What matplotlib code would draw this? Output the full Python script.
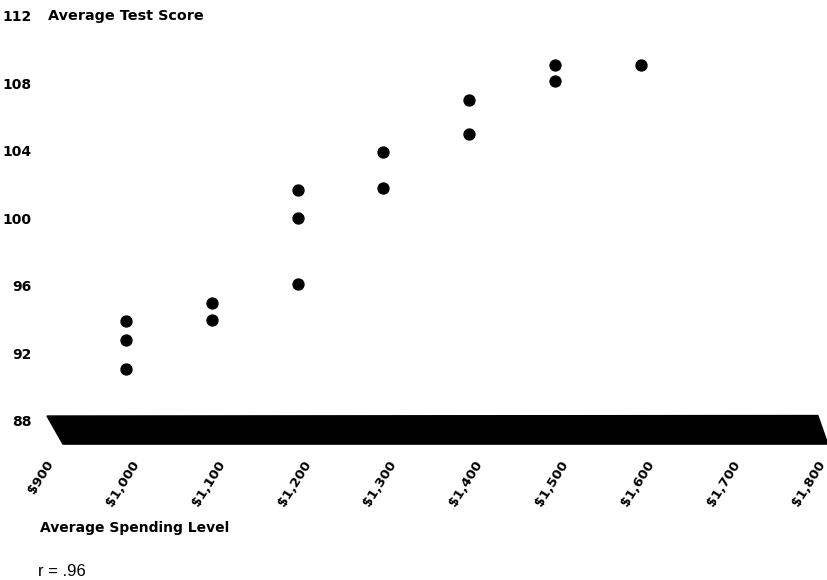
import numpy as np
import matplotlib.pyplot as plt
import matplotlib.transforms as mtransforms
from matplotlib.patches import Polygon

# spending level (dollars) and average test score per district
spending = [1000, 1000, 1000, 1100, 1100, 1200, 1200, 1200,
            1300, 1300, 1400, 1400, 1500, 1500, 1600]
scores = [93.9, 92.8, 91.1, 95.0, 94.0, 101.7, 100.0, 96.1,
          103.9, 101.8, 107.0, 105.0, 109.1, 108.1, 109.1]

x_ticks = [900, 1000, 1100, 1200, 1300, 1400, 1500, 1600, 1700, 1800]
x_labels = ['$900', '$1,000', '$1,100', '$1,200', '$1,300',
            '$1,400', '$1,500', '$1,600', '$1,700', '$1,800']
y_ticks = [88, 92, 96, 100, 104, 108, 112]


def run():
    W, H = 828, 580
    fig = plt.figure(figsize=(W / 100, H / 100), dpi=100)
    ax = fig.add_axes([40.2 / W, (H - 421) / H, 772.2 / W, 405.4 / H])

    ax.scatter(spending, scores, s=62, color='black', zorder=3)

    ax.set_xlim(900, 1800)
    ax.set_ylim(88, 112)
    for s in ax.spines.values():
        s.set_visible(False)

    # the black "floor" band under the plot
    floor = Polygon([(0.0088, 0.0123), (1.007, 0.0135), (1.020, -0.057),
                     (0.0295, -0.057)], closed=True, transform=ax.transAxes,
                    facecolor='black', edgecolor='black', clip_on=False)
    ax.add_patch(floor)

    ax.set_yticks(y_ticks)
    ax.set_yticklabels([str(v) for v in y_ticks], fontsize=10,
                       fontweight='bold')
    ax.tick_params(axis='y', length=0, pad=6)

    ax.set_xticks(x_ticks)
    ax.set_xticklabels(x_labels, rotation=58, ha='right', va='top',
                       fontsize=9.5, fontweight='bold')
    ax.tick_params(axis='x', length=0, pad=27)
    shift = mtransforms.ScaledTranslation(16 / 100, 0, fig.dpi_scale_trans)
    for lab in ax.get_xticklabels():
        lab.set_transform(lab.get_transform() + shift)

    fig.text(48 / W, 1 - 16 / H, 'Average Test Score', fontsize=10.4,
             fontweight='bold', va='center', ha='left')
    fig.text(40 / W, 1 - 528 / H, 'Average Spending Level', fontsize=10,
             fontweight='bold', va='center', ha='left')
    fig.text(38 / W, 1 - 571 / H, 'r = .96', fontsize=12,
             family='Liberation Sans', va='center', ha='left')

    fig.savefig('out.png', dpi=100)


if __name__ == '__main__':
    run()
